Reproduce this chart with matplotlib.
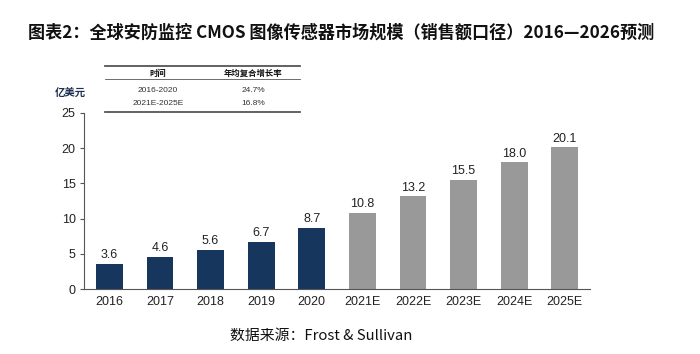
import matplotlib
matplotlib.use("Agg")
import matplotlib.pyplot as plt
from matplotlib.lines import Line2D

plt.rcParams['font.family'] = ['Noto Sans CJK SC', 'DejaVu Sans']

categories = ['2016', '2017', '2018', '2019', '2020', '2021E', '2022E', '2023E', '2024E', '2025E']
values = [3.6, 4.6, 5.6, 6.7, 8.7, 10.8, 13.2, 15.5, 18.0, 20.1]
is_forecast = [False] * 5 + [True] * 5
yticks = [0, 5, 10, 15, 20, 25]
table_header = ['时间', '年均复合增长率']
table_rows = [['2016-2020', '24.7%'], ['2021E-2025E', '16.8%']]

title = '图表2：全球安防监控 CMOS 图像传感器市场规模（销售额口径）2016—2026预测'
unit = '亿美元'
source = '数据来源：Frost & Sullivan'

navy = '#17365d'
gray = '#999999'

fig = plt.figure(figsize=(7.0, 3.54), dpi=100)
ax = fig.add_axes([0.12, 0.1836, 0.723, 0.4974])

x = list(range(len(categories)))
colors = [gray if f else navy for f in is_forecast]
bars = ax.bar(x, values, width=0.53, color=colors, zorder=2)
for xi, v in zip(x, values):
    ax.text(xi, v + 0.35, f'{v:.1f}', ha='center', va='bottom',
            fontsize=9, color='#222222', family=['Liberation Sans'])

ax.set_xlim(-0.5, 9.5)
ax.set_ylim(0, 25)
ax.set_yticks(yticks)
ax.set_xticks(x)
ax.set_xticklabels(categories)
for lab in ax.get_xticklabels() + ax.get_yticklabels():
    lab.set_family(['Liberation Sans'])
    lab.set_fontsize(9)
    lab.set_color('#222222')
ax.tick_params(axis='x', length=0, pad=5)
ax.tick_params(axis='y', length=3, width=0.8, color='#555555', pad=3)
for s in ['top', 'right']:
    ax.spines[s].set_visible(False)
for s in ['left', 'bottom']:
    ax.spines[s].set_color('#555555')
    ax.spines[s].set_linewidth(0.8)

def fy(py):
    return 1 - py / 354.0
def fx(px):
    return px / 700.0

# title
fig.text(fx(28), fy(33), title, fontsize=12.3, fontweight='bold', color='#111111',
         ha='left', va='center')
# unit label
fig.text(fx(70), fy(93), unit, fontsize=7.5, fontweight='bold', color='#1f2f4f',
         ha='center', va='center')
# source
fig.text(fx(321), fy(336), source, fontsize=10.7, color='#111111', ha='center', va='center')

# table
x0, x1 = fx(105), fx(300)
for py, lw in [(66, 1.3), (79, 0.6), (112, 1.3)]:
    fig.add_artist(Line2D([x0, x1], [fy(py), fy(py)], color='#555555', lw=lw))
c1, c2 = fx(158), fx(253)
fig.text(c1, fy(73), table_header[0], fontsize=6, fontweight='bold', ha='center', va='center', color='#111111')
fig.text(c2, fy(73), table_header[1], fontsize=6, fontweight='bold', ha='center', va='center', color='#111111')
for (a, b), py in zip(table_rows, [91, 104]):
    fig.text(c1, fy(py), a, fontsize=6, ha='center', va='center', color='#333333', family=['Liberation Sans'])
    fig.text(c2, fy(py), b, fontsize=6, ha='center', va='center', color='#333333', family=['Liberation Sans'])

fig.savefig('out.png', dpi=100)
